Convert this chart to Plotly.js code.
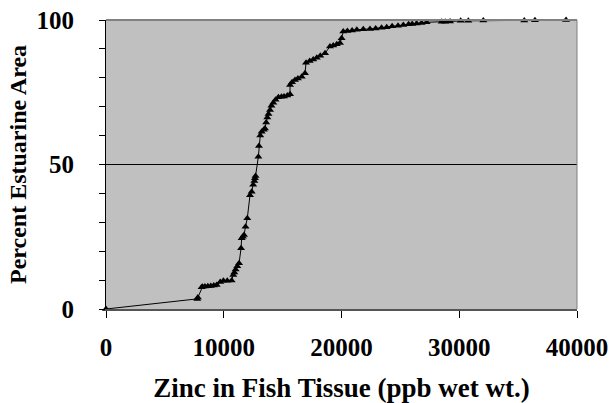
<!DOCTYPE html>
<html>
<head>
<meta charset="utf-8">
<script src="https://cdn.plot.ly/plotly-3.0.1.min.js"></script>
<style>html,body{margin:0;padding:0;background:#fff;}#chart{width:611px;height:403px;}</style>
</head>
<body>
<div id="chart"></div>
<script>
// Zinc concentration in fish tissue (ppb wet wt.)
const zincPpb = [0,7750,7800,8120,8200,8400,8650,8900,9150,9400,9700,9970,10300,10670,10810,10900,11010,11150,11300,11470,11520,11620,11720,11850,12000,12230,12370,12500,12600,12650,12700,12940,12990,13100,13220,13400,13500,13600,13700,13800,13930,14050,14210,14400,14640,14900,15120,15400,15630,15630,15800,16050,16300,16620,16900,16990,17300,17600,17900,18200,18600,19020,19300,19600,19870,20010,20150,20500,20900,21300,21850,22420,22900,23400,23840,24300,24800,25250,25700,26000,26380,26800,27230,28510,28800,29220,30120,30770,32040,35520,36430,39070];
// Cumulative percent of estuarine area
const pctArea = [0,3.5,4.0,7.5,7.7,7.8,7.9,8.0,8.1,8.3,9.3,9.8,9.8,9.9,11.8,12.6,13.7,14.8,15.8,21.0,24.5,25.0,25.6,28.5,31.4,39.4,40.6,43.0,44.3,45.2,46.0,52.7,56.4,60.0,61.3,62.0,62.5,64.5,66.3,67.5,68.9,70.3,71.4,72.4,73.3,73.4,73.5,73.9,74.3,77.5,78.5,79.2,79.8,80.4,81.6,85.2,85.8,86.3,86.9,87.6,88.5,90.8,91.2,91.6,92.0,93.7,96.0,96.2,96.4,96.6,96.8,96.9,97.1,97.3,97.5,97.8,98.0,98.3,98.5,98.6,98.8,99.0,99.2,99.4,99.4,99.5,99.7,99.7,99.8,99.8,99.9,100];
const xTicks = [0,10000,20000,30000,40000];
const xTickLabels = ['0','10000','20000','30000','40000'];
const yTicks = [0,50,100];
const yTickLabels = ['0','50','100'];

const font = "'Liberation Serif','Times New Roman',serif";

Plotly.newPlot('chart', [{
  x: zincPpb, y: pctArea, type: 'scatter', mode: 'lines+markers',
  line: {color: '#000', width: 1},
  marker: {symbol: 'triangle-up', size: 7, color: '#000'},
  cliponaxis: false,
  hoverinfo: 'skip'
}], {
  width: 611, height: 403,
  margin: {l: 106, r: 34, t: 20, b: 94},
  paper_bgcolor: '#fff', plot_bgcolor: '#c0c0c0',
  showlegend: false,
  font: {family: font, color: '#000'},
  xaxis: {
    range: [0, 40000], tickvals: xTicks, ticktext: xTickLabels,
    ticks: 'outside', ticklen: 7, tickcolor: '#000', tickwidth: 1,
    showline: true, linecolor: '#555', linewidth: 2,
    showgrid: false, zeroline: false, fixedrange: true,
    tickfont: {family: font, size: 25, color: '#000', weight: 'bold'},
    ticklabelstandoff: 8,
    title: {text: '<b>Zinc in Fish Tissue (ppb wet wt.)</b>', font: {family: font, size: 27, color: '#000'}, standoff: 18}
  },
  yaxis: {
    range: [0, 100], tickvals: yTicks, ticktext: yTickLabels,
    ticks: 'outside', ticklen: 6, tickcolor: '#000', tickwidth: 1,
    minor: {dtick: 10, ticks: 'outside', ticklen: 6, tickcolor: '#000', showgrid: false},
    showline: true, linecolor: '#000', linewidth: 1,
    showgrid: true, gridcolor: '#000', gridwidth: 1, zeroline: false, fixedrange: true,
    tickfont: {family: font, size: 25, color: '#000', weight: 'bold'},
    ticklabelstandoff: 20,
    title: {text: '<b>Percent Estuarine Area</b>', font: {family: font, size: 24, color: '#000'}, standoff: 3}
  },
  shapes: [
    {type: 'line', xref: 'paper', yref: 'paper', x0: 0, x1: 1, y0: 1, y1: 1, line: {color: '#808080', width: 2}, layer: 'above'},
    {type: 'line', xref: 'paper', yref: 'paper', x0: 1, x1: 1, y0: 0, y1: 1, line: {color: '#808080', width: 1}, layer: 'above'}
  ]
}, {displayModeBar: false, staticPlot: true});
</script>
</body>
</html>
